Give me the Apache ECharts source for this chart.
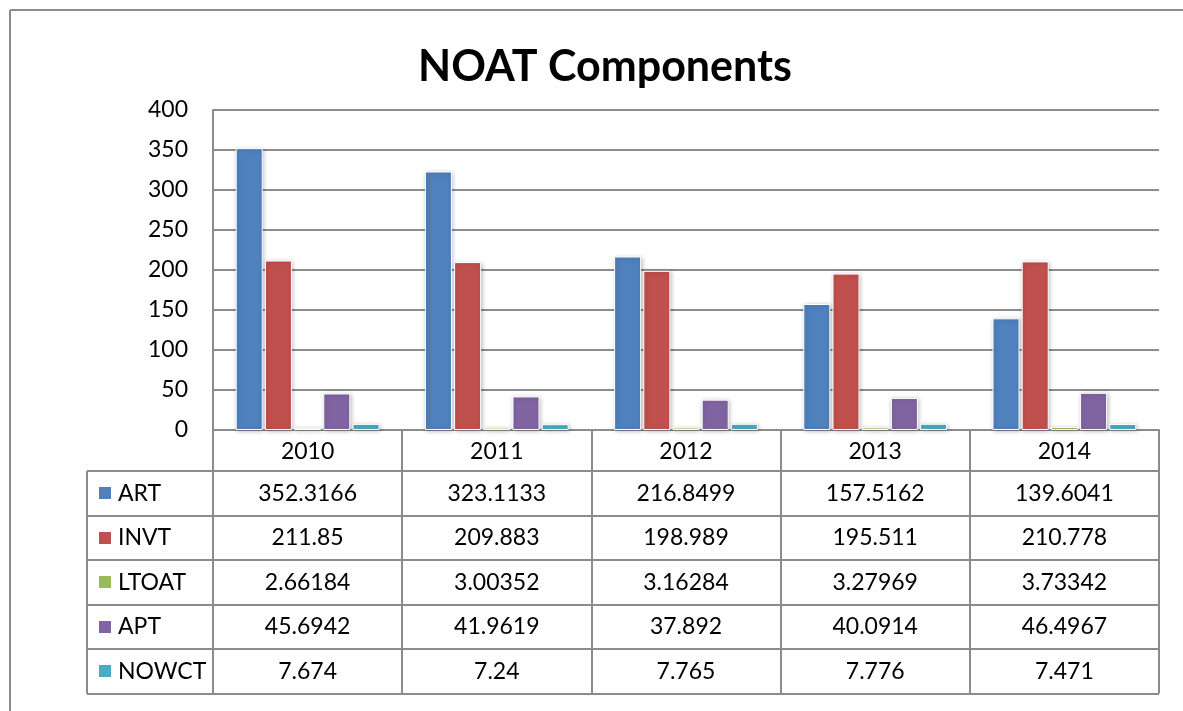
<!DOCTYPE html>
<html>
<head>
<meta charset="utf-8">
<title>NOAT Components</title>
<script src="https://cdn.jsdelivr.net/npm/echarts@6/dist/echarts.min.js"></script>
<style>
  html, body { margin: 0; padding: 0; background: #fff; }
  #chart { width: 1183px; height: 711px; }
</style>
</head>
<body>
<div id="chart"></div>
<script>
// Fiscal years shown along the category axis
const years = ['2010', '2011', '2012', '2013', '2014'];

// Net operating asset components, one array per series
const seriesNames = ['ART', 'INVT', 'LTOAT', 'APT', 'NOWCT'];
const ART   = [352.3166, 323.1133, 216.8499, 157.5162, 139.6041];
const INVT  = [211.85, 209.883, 198.989, 195.511, 210.778];
const LTOAT = [2.66184, 3.00352, 3.16284, 3.27969, 3.73342];
const APT   = [45.6942, 41.9619, 37.892, 40.0914, 46.4967];
const NOWCT = [7.674, 7.24, 7.765, 7.776, 7.471];
const seriesValues = [ART, INVT, LTOAT, APT, NOWCT];

const colors = ['#4F81BD', '#C0504D', '#9BBB59', '#8064A2', '#4BACC6'];
const FONT = 'Lato, "Open Sans", sans-serif';
const LINE = '#8c8c8c';

// Plot and data-table geometry
const gridLeft = 213, gridTop = 110, gridWidth = 946, gridHeight = 320;
const axisY = gridTop + gridHeight;
const headerBottom = 471;
const rowHeight = 44.5;
const tableLeft = 87;
const tableRight = gridLeft + gridWidth;
const tableBottom = headerBottom + rowHeight * seriesNames.length;

const chart = echarts.init(document.getElementById('chart'), null, { renderer: 'canvas' });

chart.setOption({
  animation: false,
  backgroundColor: '#fff',
  color: colors,
  textStyle: { fontFamily: FONT },
  title: {
    text: 'NOAT Components',
    left: 413,
    top: 41,
    textStyle: { fontFamily: FONT, fontSize: 43, fontWeight: 'bold', color: '#000' }
  },
  grid: { left: gridLeft, top: gridTop, width: gridWidth, height: gridHeight, containLabel: false },
  xAxis: {
    type: 'category',
    data: years,
    boundaryGap: true,
    axisLine: { show: true, lineStyle: { color: LINE, width: 2 } },
    axisTick: { show: true, interval: 0, length: tableBottom - axisY, lineStyle: { color: LINE, width: 2 } },
    axisLabel: { interval: 0, margin: 10, fontSize: 23, color: '#000', fontFamily: FONT },
    splitLine: { show: false }
  },
  yAxis: {
    type: 'value',
    min: 0,
    max: 400,
    interval: 50,
    axisLine: { show: true, lineStyle: { color: LINE, width: 2 } },
    axisTick: { show: false },
    axisLabel: { margin: 25, fontSize: 23, color: '#000', fontFamily: FONT },
    splitLine: { show: true, lineStyle: { color: LINE, width: 2 } }
  },
  series: seriesNames.map((name, i) => ({
    name: name,
    type: 'bar',
    data: seriesValues[i],
    barCategoryGap: '24%',
    barGap: '8%',
    itemStyle: {
      color: colors[i],
      borderColor: '#fff',
      borderWidth: 1,
      shadowBlur: 4,
      shadowColor: 'rgba(0,0,0,0.25)',
      shadowOffsetX: 1,
      shadowOffsetY: 1
    }
  }))
});

// Data table underneath the axis, with the legend keys in the first column
const graphics = [];

// chart frame (top and left edges)
graphics.push({ type: 'line', shape: { x1: 10, y1: 10, x2: 1183, y2: 10 }, style: { stroke: LINE, lineWidth: 2 }, z: 10 });
graphics.push({ type: 'line', shape: { x1: 10, y1: 10, x2: 10, y2: 711 }, style: { stroke: LINE, lineWidth: 2 }, z: 10 });

// horizontal rules of the table
for (let r = 0; r <= seriesNames.length; r++) {
  const y = Math.round(headerBottom + rowHeight * r);
  graphics.push({ type: 'line', shape: { x1: tableLeft, y1: y, x2: tableRight, y2: y }, style: { stroke: LINE, lineWidth: 2 }, z: 10 });
}
// left edge of the series-name column
graphics.push({ type: 'line', shape: { x1: tableLeft, y1: headerBottom, x2: tableLeft, y2: Math.round(tableBottom) }, style: { stroke: LINE, lineWidth: 2 }, z: 10 });

seriesNames.forEach((name, r) => {
  const cy = headerBottom + rowHeight * r + rowHeight / 2;
  graphics.push({ type: 'rect', shape: { x: 99, y: Math.round(cy - 6), width: 12, height: 12 }, style: { fill: colors[r] }, z: 11 });
  graphics.push({
    type: 'text', x: 118, y: cy,
    style: { text: name, fontSize: 23, fontFamily: FONT, fill: '#000', align: 'left', verticalAlign: 'middle' },
    z: 11
  });
  seriesValues[r].forEach((v, c) => {
    const cx = chart.convertToPixel({ xAxisIndex: 0 }, years[c]);
    graphics.push({
      type: 'text', x: cx, y: cy,
      style: { text: String(v), fontSize: 23, fontFamily: FONT, fill: '#000', align: 'center', verticalAlign: 'middle' },
      z: 11
    });
  });
});

chart.setOption({ graphic: graphics });
</script>
</body>
</html>
